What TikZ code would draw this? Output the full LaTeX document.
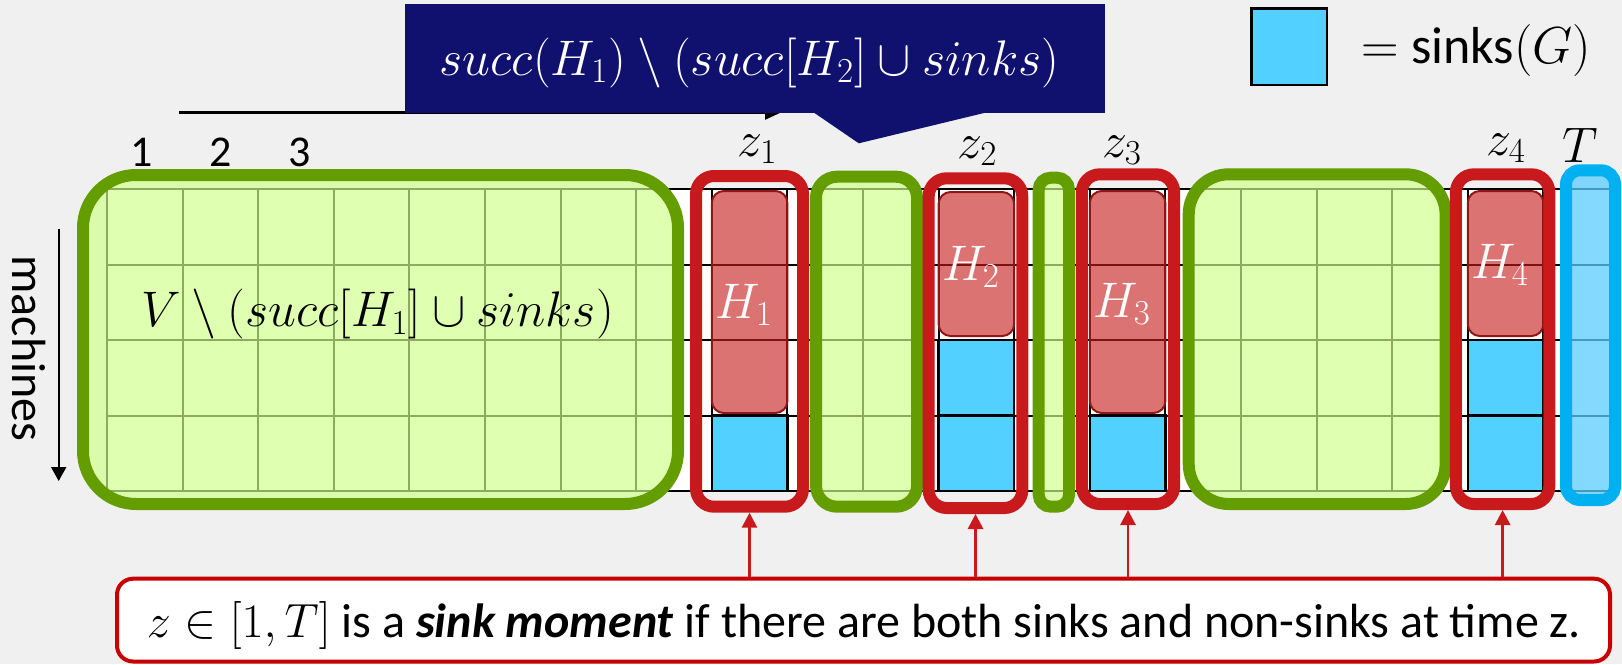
\RequirePackage{fix-cm}
\documentclass[tikz,border=0pt]{standalone}
\usepackage[no-math]{fontspec}
\setmainfont{Carlito}
\usetikzlibrary{arrows.meta,fit}
\definecolor{bg}{RGB}{241,240,240}
\definecolor{gfill}{RGB}{208,255,140}
\definecolor{gline}{RGB}{100,157,0}
\definecolor{zred}{RGB}{200,26,28}
\definecolor{hfill}{RGB}{200,30,30}
\definecolor{hdraw}{RGB}{145,22,22}
\definecolor{sinkblue}{RGB}{82,208,255}
\definecolor{tblue}{RGB}{0,176,240}
\definecolor{tfill}{RGB}{90,205,255}
\definecolor{navy}{RGB}{16,16,110}
\definecolor{boxred}{RGB}{200,0,0}
\begin{document}
\begin{tikzpicture}[x=0.5pt,y=-0.5pt,
  every node/.style={font=\fontsize{24}{29}\selectfont, inner sep=0pt},
  mathtext/.style={font=\fontsize{25}{30}\selectfont},
  gridline/.style={line width=1pt, draw=black},
  sinkcell/.style={fill=sinkblue, draw=black, line width=1.2pt},
  hbox/.style={fill=hfill, fill opacity=0.62, draw=hdraw, draw opacity=1, line width=1pt, rounded corners=6pt},
  hlabel/.style={text=white, anchor=base, mathtext},
  greenblk/.style={fill=gfill, fill opacity=0.67, draw=gline, draw opacity=1, line width=6pt},
  zbox/.style={draw=zred, line width=6pt, rounded corners=9pt},
  tbox/.style={draw=tblue, line width=6pt, fill=tfill, fill opacity=0.75, draw opacity=1, rounded corners=7pt},
  toplabel/.style={anchor=base},
  redarrow/.style={draw=zred, line width=1.4pt, -{Triangle[length=7.5pt,width=7.5pt]}},
  blackarrow/.style={draw=black, line width=1pt, -{Triangle[length=7pt,width=7.5pt]}},
  notebox/.style={draw=boxred, line width=2pt, fill=white, rounded corners=8pt},
]
\fill[bg] (0,0) rectangle (1622,664);
\useasboundingbox (0,0) rectangle (1622,664);

% grid
\fill[white] (107,189) rectangle (1619,491);
\foreach \k in {0,...,20}{\draw[gridline] ({107+75.6*\k},189) -- ({107+75.6*\k},491);}
\foreach \r in {0,...,4}{\draw[gridline] (107,{189+75.5*\r}) -- (1619,{189+75.5*\r});}

% sink cells
\draw[sinkcell] (711.8,415.5) rectangle (787.4,491);
\draw[sinkcell] (938.6,340) rectangle (1014.2,415.5);
\draw[sinkcell] (938.6,415.5) rectangle (1014.2,491);
\draw[sinkcell] (1089.8,415.5) rectangle (1165.4,491);
\draw[sinkcell] (1467.8,340) rectangle (1543.4,415.5);
\draw[sinkcell] (1467.8,415.5) rectangle (1543.4,491);

% H boxes
\node[hbox, fit={(711.8,191)(787.4,413)}] (H1) {};
\node[hbox, fit={(938.6,192)(1014.2,336)}] (H2) {};
\node[hbox, fit={(1089.8,191)(1165.4,413)}] (H3) {};
\node[hbox, fit={(1467.8,191)(1543.4,336)}] (H4) {};
\node[hlabel] (h1l) at (744,318) {$H_1$};
\node[hlabel] (h2l) at (971,280) {$H_2$};
\node[hlabel] (h3l) at (1122,317) {$H_3$};
\node[hlabel] (h4l) at (1500,278) {$H_4$};

% green blocks
\node[greenblk, rounded corners=26.5pt, fit={(83,175)(678,504)}] (G1) {};
\node[greenblk, rounded corners=10.5pt, fit={(816,176.7)(917,506.7)}] (G2) {};
\node[greenblk, rounded corners=6pt, fit={(1038.7,177.7)(1069,506.7)}] (G3) {};
\node[greenblk, rounded corners=20pt, fit={(1188.7,174.3)(1445.6,504)}] (G4) {};

% red z boxes
\node[zbox, fit={(696,176)(803,506.7)}] (Z1) {};
\node[zbox, fit={(928.7,178.3)(1022.3,508)}] (Z2) {};
\node[zbox, fit={(1081.8,174.3)(1174.2,504)}] (Z3) {};
\node[zbox, fit={(1455.9,174.3)(1549.3,504)}] (Z4) {};

% T column
\node[tbox, fit={(1566,170.3)(1615,500)}] (TB) {};

% labels
\node[toplabel, font=\fontsize{22}{26}\selectfont] (c1) at (141.7,166.7) {1};
\node[toplabel, font=\fontsize{22}{26}\selectfont] (c2) at (221,166.7) {2};
\node[toplabel, font=\fontsize{22}{26}\selectfont] (c3) at (299.3,166.7) {3};
\node[toplabel, mathtext] (z1l) at (757.5,156) {$z_1$};
\node[toplabel, mathtext] (z2l) at (977.5,158) {$z_2$};
\node[toplabel, mathtext] (z3l) at (1122,157) {$z_3$};
\node[toplabel, mathtext] (z4l) at (1506,155) {$z_4$};
\node[toplabel, mathtext] (tl) at (1580,162) {$T$};
\node[toplabel, mathtext] (vlab) at (377.5,326.5) {$V\setminus(succ[H_1]\cup sinks)$};

% machines
\node[rotate=-90] (mach) at (29,348.5) {machines};
\coordinate (ma) at (58.7,229);
\coordinate (mb) at (58.7,481);
\draw[blackarrow] (ma) -- (mb);

% time axis (mostly hidden)
\coordinate (ta) at (179,112.5);
\coordinate (tb) at (781,112.5);
\draw[line width=1.2pt, -{Triangle[length=8pt,width=7pt]}] (ta) -- (tb);

% callout
\node[fill=navy, fit={(404.5,4)(1104.8,112.5)}] (callout) {};
\fill[navy] (813,112) -- (858.8,143.3) -- (988.2,112) -- cycle;
\node[text=white, anchor=base, mathtext] (ctext) at (749.5,75) {$succ(H_1)\setminus(succ[H_2]\cup sinks)$};

% legend
\node[sinkcell, fit={(1251.5,8.5)(1327,85)}] (leg) {};
\node[anchor=base west, font=\fontsize{26}{30}\selectfont] (legtext) at (1361.5,63) {$=$~sinks$(G)$};

% note box
\node[notebox, fit={(117,578.7)(1610,661.5)}] (note) {};
\node[anchor=base] (notetext) at (864,637) {$z\in[1,T]$ is a \textbf{\textit{sink moment}} if there are both sinks and non-sinks at time z.};
\foreach \z in {Z1,Z2,Z3,Z4}{\draw[redarrow] (note.north -| \z.south) -- (\z.south);}
\end{tikzpicture}
\end{document}
